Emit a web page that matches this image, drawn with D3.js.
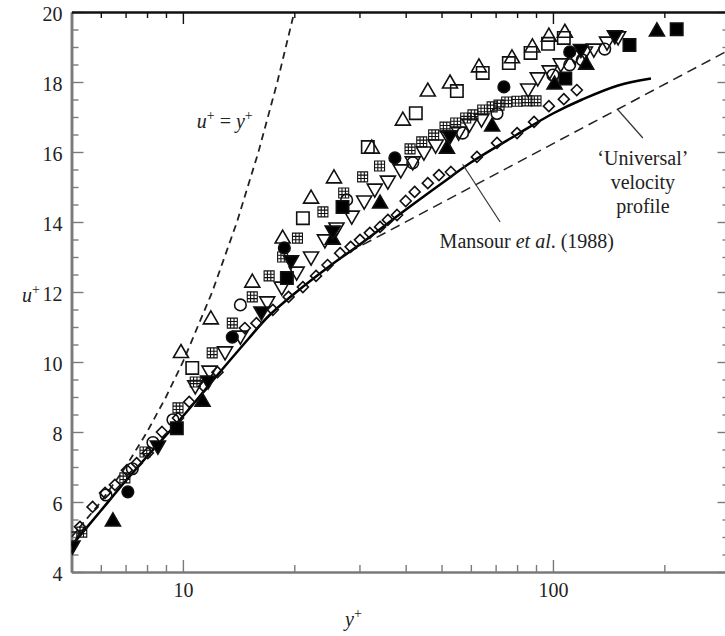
<!DOCTYPE html>
<html>
<head>
<meta charset="utf-8">
<script src="https://cdn.jsdelivr.net/npm/d3@7"></script>
<style>
  body { margin: 0; background: #fff; }
  svg { font-family: "Liberation Serif", "Times New Roman", serif; }
</style>
</head>
<body>
<svg id="chart"></svg>
<script>
// ---- data: [y+, u+] ----
const triUpOpen = [[9.88,10.3],[11.9,11.26],[15.4,12.31],[18.6,13.57],[22.2,14.71],[25.6,15.29],[32.4,16.14],[39.3,16.94],[45.9,17.77],[52.7,18.0],[63.1,18.46],[77.5,18.72],[88,19.03],[97.5,19.34],[107.7,19.45]];
const squareOpen = [[10.6,9.83],[21.1,14.11],[31.6,16.14],[42.6,17.11],[55.0,17.74],[64.6,18.26],[76,18.54],[87,18.83],[97,19.09],[107,19.26]];
const gridSquare = [[5.33,5.14],[6.97,6.69],[7.9,7.43],[9.7,8.69],[10.8,9.43],[12.0,10.26],[13.6,11.11],[15.4,11.86],[17.1,12.46],[18.6,13.0],[20.4,13.54],[23.9,14.29],[27.2,14.83],[30.6,15.29],[34.0,15.6],[41.1,16.09],[44.2,16.29],[47.6,16.49],[51.1,16.71],[54.6,16.83],[58.1,16.97],[60.8,17.06],[64.6,17.2],[68.5,17.29],[71.5,17.34],[75,17.43],[80,17.45],[85,17.46],[90,17.46]];
const circleFill = [[7.1,6.29],[13.6,10.71],[18.8,13.26],[37.4,15.83],[73.7,17.86],[111,18.86]];
const triDownOpen = [[5.03,4.97],[10.8,9.29],[11.8,9.71],[13.0,10.26],[14.3,10.71],[16.9,11.69],[18.5,12.11],[20.3,12.54],[22.2,12.97],[24.2,13.46],[26.0,13.8],[28.6,14.14],[30.9,14.57],[33.0,14.91],[35.8,15.14],[38.8,15.46],[41.8,15.69],[44.8,15.97],[48.2,16.17],[52.0,16.43],[55.6,16.54],[59.5,16.77],[64.1,16.91],[85.7,17.77],[91.0,18.09],[98.0,18.29],[105,18.49],[114.5,18.71],[122,18.83],[129,18.91],[140,19.11],[150,19.26]];
const triDownFill = [[5.03,4.71],[8.56,7.57],[11.7,9.43],[16.3,11.4],[19.6,12.86],[25.4,13.71],[52.7,16.43],[119,18.9],[147,19.29]];
const squareFill = [[9.63,8.11],[19.1,12.4],[27.0,14.43],[108,18.1],[161,19.06],[216,19.51]];
const triUpFill = [[6.47,5.49],[11.3,8.91],[25.4,13.54],[34.1,14.57],[51.7,16.14],[68.5,16.77],[101,17.97],[123,18.54],[191,19.49]];
const circleOpen = [[6.2,6.2],[7.3,6.95],[8.3,7.7],[9.4,8.35],[14.3,11.63],[27.7,14.63],[41.8,15.69],[57,16.54],[70.6,17.1],[100,18.2],[111,18.49],[120,18.63],[138,18.94]];
const diamondOpen = [[5.27,5.29],[5.7,5.86],[6.16,6.26],[6.55,6.49],[7.06,6.91],[7.5,7.11],[8.04,7.4],[8.78,8.0],[9.7,8.4],[10.4,8.86],[11.4,9.3],[12.4,9.71],[14.7,10.97],[15.8,11.11],[17.5,11.49],[19.3,11.86],[21.1,12.14],[22.9,12.46],[24.6,12.77],[26.6,13.11],[28.4,13.29],[30.1,13.49],[32.0,13.69],[34.1,13.86],[35.8,14.06],[37.9,14.2],[40.0,14.6],[42.3,14.86],[45.9,15.11],[49.2,15.34],[53.0,15.43],[62.3,15.86],[70.6,16.26],[80,16.54],[88.9,16.86],[97.5,17.31],[107,17.51],[116,17.77]];

// Mansour et al. (1988) DNS profile
const mansourYp = [5, 6, 7, 8, 10, 12, 15, 17, 20, 25, 30, 40, 50, 60, 80, 100, 120, 150, 184];
const mansourUp = [4.75, 5.75, 6.6, 7.3, 8.45, 9.45, 10.65, 11.3, 11.95, 12.75, 13.35, 14.35, 15.1, 15.7, 16.5, 17.1, 17.5, 17.9, 18.1];
// viscous sublayer u+ = y+
const linearYp = [5, 6, 7, 8, 9, 10, 12, 14, 16, 18, 20];
const linearUp = [5, 6, 7, 8, 9, 10, 12, 14, 16, 18, 20];
// 'Universal' log law
const logLawYp = [28, 300];
const logLawUp = [13.13, 18.92];

// axis ticks
const xMajorTicks = [10, 100];
const xMinorTicks = [6, 7, 8, 9, 20, 30, 40, 50, 60, 70, 80, 90, 200];
const yMajorTicks = [4, 6, 8, 10, 12, 14, 16, 18, 20];

// ---- layout ----
const W = 725, H = 636;
const margin = {top: 12, left: 71.5};
const plotW = 658, plotH = 560;

const svg = d3.select('#chart').attr('width', W).attr('height', H);
const g = svg.append('g').attr('transform', `translate(${margin.left},${margin.top})`);

const x = d3.scaleLog().domain([5, 300]).range([0, plotW]);
const y = d3.scaleLinear().domain([4, 20]).range([plotH, 0]);

const grey = '#7a7a7a';
const fontSize = 20;

// axes: ticks point inward
function styleAxis(sel, color, width) {
  sel.select('.domain').attr('stroke', color).attr('stroke-width', width);
  sel.selectAll('.tick line').attr('stroke', color).attr('stroke-width', 1.4);
  sel.selectAll('.tick text').attr('fill', '#222').style('font-size', fontSize + 'px')
    .style('font-family', '"Liberation Serif", serif');
}

// left
const yMinor = d3.range(4, 20.01, 0.5).filter(v => v % 2 !== 0);
g.append('g').call(d3.axisLeft(y).tickValues(yMinor).tickFormat('').tickSizeInner(-7).tickSizeOuter(0))
  .call(s => styleAxis(s, grey, 2.5));
g.append('g').call(d3.axisLeft(y).tickValues(yMajorTicks).tickSizeInner(-12).tickSizeOuter(0).tickPadding(9))
  .call(s => styleAxis(s, grey, 2.5))
  .call(s => s.selectAll('.tick text').attr('dy', '0.42em'));

// right
g.append('g').attr('transform', `translate(${plotW},0)`)
  .call(d3.axisRight(y).tickValues(yMinor).tickFormat('').tickSizeInner(-7).tickSizeOuter(0))
  .call(s => styleAxis(s, grey, 2.5));
g.append('g').attr('transform', `translate(${plotW},0)`)
  .call(d3.axisRight(y).tickValues(yMajorTicks).tickFormat('').tickSizeInner(-12).tickSizeOuter(0))
  .call(s => styleAxis(s, grey, 2.5));

// bottom
g.append('g').attr('transform', `translate(0,${plotH})`)
  .call(d3.axisBottom(x).tickValues(xMinorTicks).tickFormat('').tickSizeInner(-7).tickSizeOuter(0))
  .call(s => styleAxis(s, grey, 2));
g.append('g').attr('transform', `translate(0,${plotH})`)
  .call(d3.axisBottom(x).tickValues(xMajorTicks).tickFormat(d3.format('d')).tickSizeInner(-12).tickSizeOuter(0).tickPadding(11))
  .call(s => styleAxis(s, grey, 2));

// top (black)
g.append('g')
  .call(d3.axisTop(x).tickValues(xMinorTicks).tickFormat('').tickSizeInner(-6).tickSizeOuter(0))
  .call(s => styleAxis(s, '#111', 2));
g.append('g')
  .call(d3.axisTop(x).tickValues(xMajorTicks).tickFormat('').tickSizeInner(-12).tickSizeOuter(0))
  .call(s => styleAxis(s, '#111', 2));

// clip for curves and markers
svg.append('defs').append('clipPath').attr('id', 'plotClip')
  .append('rect').attr('width', plotW).attr('height', plotH);
const plot = g.append('g').attr('clip-path', 'url(#plotClip)');

const line = d3.line().x(d => x(d[0])).y(d => y(d[1]));

// curves
plot.append('path').datum(linearYp.map((v, i) => [v, linearUp[i]]))
  .attr('d', line).attr('fill', 'none').attr('stroke', '#222')
  .attr('stroke-width', 1.8).attr('stroke-dasharray', '7,5');
plot.append('path').datum(logLawYp.map((v, i) => [v, logLawUp[i]]))
  .attr('d', line).attr('fill', 'none').attr('stroke', '#222')
  .attr('stroke-width', 1.5).attr('stroke-dasharray', '10,6');
plot.append('path').datum(mansourYp.map((v, i) => [v, mansourUp[i]]))
  .attr('d', d3.line().curve(d3.curveCatmullRom).x(d => x(d[0])).y(d => y(d[1])))
  .attr('fill', 'none').attr('stroke', '#000').attr('stroke-width', 2.5);

// marker shapes
const shapes = {
  triUp: 'M0,-7L7.5,6L-7.5,6Z',
  triDown: 'M0,7L7.5,-6L-7.5,-6Z',
  square: 'M-6.2,-6.2H6.2V6.2H-6.2Z',
  grid: 'M-5,-5H5V5H-5ZM-1.7,-5V5M1.7,-5V5M-5,-1.7H5M-5,1.7H5',
  circle: 'M5.8,0A5.8,5.8 0 1,1 -5.8,0A5.8,5.8 0 1,1 5.8,0Z',
  diamond: 'M0,-5.5L5.5,0L0,5.5L-5.5,0Z'
};

const series = [
  {data: diamondOpen, shape: 'diamond', filled: false},
  {data: circleOpen, shape: 'circle', filled: false},
  {data: gridSquare, shape: 'grid', filled: false},
  {data: triDownOpen, shape: 'triDown', filled: false},
  {data: squareOpen, shape: 'square', filled: false},
  {data: triUpOpen, shape: 'triUp', filled: false},
  {data: circleFill, shape: 'circle', filled: true},
  {data: squareFill, shape: 'square', filled: true},
  {data: triUpFill, shape: 'triUp', filled: true},
  {data: triDownFill, shape: 'triDown', filled: true}
];

series.forEach(s => {
  plot.append('g').selectAll('path')
    .data(s.data)
    .join('path')
    .attr('transform', d => `translate(${x(d[0])},${y(d[1])})`)
    .attr('d', shapes[s.shape])
    .attr('fill', s.filled ? '#000' : 'none')
    .attr('stroke', '#111')
    .attr('stroke-width', s.shape === 'grid' ? 1.1 : 1.6);
});

// leader lines
const leaders = [
  [[57, 15.65], [72, 14.0]],
  [[150, 17.2], [175, 16.4]]
];
leaders.forEach(l => {
  plot.append('path').datum(l).attr('d', line)
    .attr('stroke', '#333').attr('stroke-width', 1.2).attr('fill', 'none');
});

// annotations
function sup(t, base) {
  t.append('tspan').attr('font-style', 'italic').text(base);
  t.append('tspan').attr('dy', -8).attr('font-size', 14).text('+');
}

const lin = g.append('text').attr('x', x(10.9)).attr('y', y(16.69))
  .attr('font-size', fontSize).attr('fill', '#222');
lin.append('tspan').attr('font-style', 'italic').text('u');
lin.append('tspan').attr('dy', -8).attr('font-size', 14).text('+');
lin.append('tspan').attr('dy', 8).text(' = ');
lin.append('tspan').attr('font-style', 'italic').text('y');
lin.append('tspan').attr('dy', -8).attr('font-size', 14).text('+');

const mans = g.append('text').attr('x', x(49.4)).attr('y', y(13.26))
  .attr('font-size', fontSize).attr('fill', '#222');
mans.append('tspan').text('Mansour ');
mans.append('tspan').attr('font-style', 'italic').text('et al');
mans.append('tspan').text('. (1988)');

['\u2018Universal\u2019', 'velocity', 'profile'].forEach((t, i) => {
  g.append('text').attr('x', x(175)).attr('y', y(15.63) + i * 24)
    .attr('text-anchor', 'middle').attr('font-size', fontSize).attr('fill', '#222').text(t);
});

// axis titles
const yt = svg.append('text').attr('x', 22).attr('y', 302).attr('font-size', fontSize).attr('fill', '#222');
sup(yt, 'u');
const xt = svg.append('text').attr('x', 345).attr('y', 626).attr('font-size', fontSize).attr('fill', '#222');
sup(xt, 'y');
</script>
</body>
</html>
